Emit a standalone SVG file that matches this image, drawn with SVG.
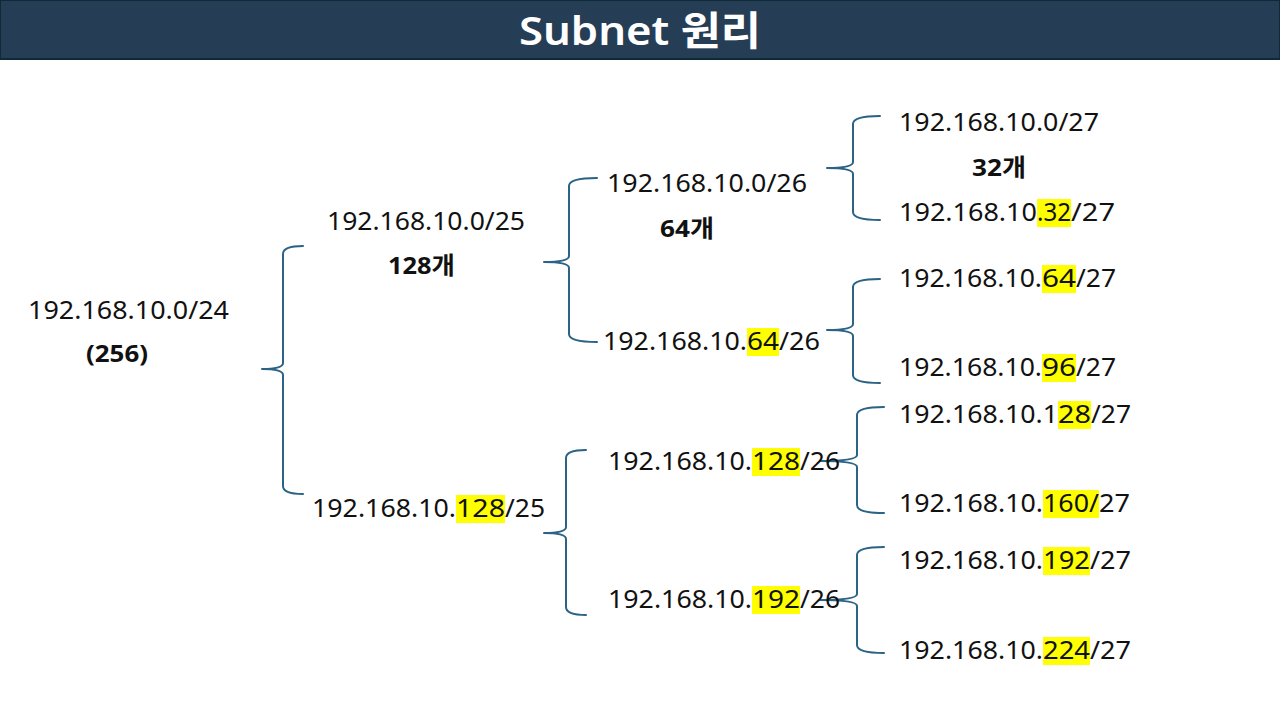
<svg xmlns="http://www.w3.org/2000/svg" width="1280" height="720" viewBox="0 0 1280 720">
<style>
.ip{font-family:"Noto Sans","Noto Sans CJK KR",sans-serif;font-size:25px;fill:#111;}
.cnt{font-family:"Noto Sans","Noto Sans CJK KR",sans-serif;font-size:24px;font-weight:700;fill:#111;}
.hl{fill:#FFFF00;}
.br{fill:none;stroke:#2A6385;stroke-width:2;stroke-linecap:round;stroke-linejoin:round;}
</style>
<rect x="0" y="0" width="1280" height="720" fill="#FFFFFF"/>
<g id="title">
<rect x="0.5" y="0.5" width="1279" height="59" fill="#263D56" stroke="#0E2A36" stroke-width="1"/>
<rect x="0" y="58" width="1280" height="2" fill="#0E2A36"/>
<text x="640" y="45" text-anchor="middle" font-family="Noto Sans, Noto Sans CJK KR, sans-serif" font-size="40" font-weight="600" fill="#FFFFFF" textLength="242" lengthAdjust="spacingAndGlyphs">Subnet 원리</text>
</g>
<g id="connectors">
<path class="br" d="M303 246 Q283 246 283 254 L283 363 Q283 369 262 369 Q283 369 283 375 L283 486 Q283 494 303 494"/>
<path class="br" d="M597 178 Q569 178 569 186 L569 256 Q569 262 544 262 Q569 262 569 268 L569 334 Q569 342 597 342"/>
<path class="br" d="M880 116 Q853 116 853 124 L853 162 Q853 168 827 168 Q853 168 853 174 L853 212 Q853 220 880 220"/>
<path class="br" d="M880 279 Q853 279 853 287 L853 324 Q853 330 827 330 Q853 330 853 336 L853 375 Q853 383 880 383"/>
<path class="br" d="M586 450 Q566 450 566 458 L566 527 Q566 533 544 533 Q566 533 566 539 L566 607 Q566 615 586 615"/>
<path class="br" d="M884 407 Q857 407 857 415 L857 455 Q857 461 820 461 Q857 461 857 467 L857 505 Q857 513 884 513"/>
<path class="br" d="M884 547 Q857 547 857 555 L857 594 Q857 600 820 600 Q857 600 857 606 L857 645 Q857 653 884 653"/>
</g>
<g id="n24">
<text class="ip" x="28" y="319" textLength="201" lengthAdjust="spacingAndGlyphs">192.168.10.0/24</text>
<text class="cnt" x="86" y="362" textLength="62" lengthAdjust="spacingAndGlyphs">(256)</text>
</g>
<g id="n25a">
<text class="ip" x="327" y="230" textLength="198" lengthAdjust="spacingAndGlyphs">192.168.10.0/25</text>
<text class="cnt" x="388" y="274" textLength="67" lengthAdjust="spacingAndGlyphs">128개</text>
</g>
<g id="n25b">
<rect class="hl" x="456" y="495" width="49" height="28"/>
<text class="ip" y="517"><tspan x="312" textLength="144" lengthAdjust="spacingAndGlyphs">192.168.10.</tspan><tspan x="456" textLength="49" lengthAdjust="spacingAndGlyphs">128</tspan><tspan x="505" textLength="40" lengthAdjust="spacingAndGlyphs">/25</tspan></text>
</g>
<g id="n26a">
<text class="ip" x="607" y="192" textLength="200" lengthAdjust="spacingAndGlyphs">192.168.10.0/26</text>
<text class="cnt" x="660" y="237" textLength="54" lengthAdjust="spacingAndGlyphs">64개</text>
</g>
<g id="n26b">
<rect class="hl" x="747" y="328" width="32" height="28"/>
<text class="ip" y="350"><tspan x="603" textLength="144" lengthAdjust="spacingAndGlyphs">192.168.10.</tspan><tspan x="747" textLength="32" lengthAdjust="spacingAndGlyphs">64</tspan><tspan x="779" textLength="41" lengthAdjust="spacingAndGlyphs">/26</tspan></text>
</g>
<g id="n26c">
<rect class="hl" x="752" y="448" width="48" height="28"/>
<text class="ip" y="470"><tspan x="608" textLength="144" lengthAdjust="spacingAndGlyphs">192.168.10.</tspan><tspan x="752" textLength="48" lengthAdjust="spacingAndGlyphs">128</tspan><tspan x="800" textLength="40" lengthAdjust="spacingAndGlyphs">/26</tspan></text>
</g>
<g id="n26d">
<rect class="hl" x="752" y="586" width="48" height="28"/>
<text class="ip" y="608"><tspan x="608" textLength="144" lengthAdjust="spacingAndGlyphs">192.168.10.</tspan><tspan x="752" textLength="48" lengthAdjust="spacingAndGlyphs">192</tspan><tspan x="800" textLength="40" lengthAdjust="spacingAndGlyphs">/26</tspan></text>
</g>
<g id="n27a">
<text class="ip" x="899" y="131" textLength="200" lengthAdjust="spacingAndGlyphs">192.168.10.0/27</text>
<text class="cnt" x="972" y="176" textLength="54" lengthAdjust="spacingAndGlyphs">32개</text>
</g>
<g id="n27b">
<rect class="hl" x="1037" y="199" width="34" height="28"/>
<text class="ip" y="221"><tspan x="899" textLength="138" lengthAdjust="spacingAndGlyphs">192.168.10</tspan><tspan x="1037" textLength="34" lengthAdjust="spacingAndGlyphs">.32</tspan><tspan x="1071" textLength="44" lengthAdjust="spacingAndGlyphs">/27</tspan></text>
</g>
<g id="n27c">
<rect class="hl" x="1042" y="265" width="34" height="28"/>
<text class="ip" y="287"><tspan x="899" textLength="143" lengthAdjust="spacingAndGlyphs">192.168.10.</tspan><tspan x="1042" textLength="34" lengthAdjust="spacingAndGlyphs">64</tspan><tspan x="1076" textLength="40" lengthAdjust="spacingAndGlyphs">/27</tspan></text>
</g>
<g id="n27d">
<rect class="hl" x="1042" y="354" width="34" height="28"/>
<text class="ip" y="376"><tspan x="899" textLength="143" lengthAdjust="spacingAndGlyphs">192.168.10.</tspan><tspan x="1042" textLength="34" lengthAdjust="spacingAndGlyphs">96</tspan><tspan x="1076" textLength="40" lengthAdjust="spacingAndGlyphs">/27</tspan></text>
</g>
<g id="n27e">
<rect class="hl" x="1058" y="401" width="33" height="28"/>
<text class="ip" y="423"><tspan x="899" textLength="159" lengthAdjust="spacingAndGlyphs">192.168.10.1</tspan><tspan x="1058" textLength="33" lengthAdjust="spacingAndGlyphs">28</tspan><tspan x="1091" textLength="40" lengthAdjust="spacingAndGlyphs">/27</tspan></text>
</g>
<g id="n27f">
<rect class="hl" x="1043" y="490" width="56" height="28"/>
<text class="ip" y="512"><tspan x="899" textLength="144" lengthAdjust="spacingAndGlyphs">192.168.10.</tspan><tspan x="1043" textLength="56" lengthAdjust="spacingAndGlyphs">160/</tspan><tspan x="1099" textLength="31" lengthAdjust="spacingAndGlyphs">27</tspan></text>
</g>
<g id="n27g">
<rect class="hl" x="1043" y="547" width="47" height="28"/>
<text class="ip" y="569"><tspan x="899" textLength="144" lengthAdjust="spacingAndGlyphs">192.168.10.</tspan><tspan x="1043" textLength="47" lengthAdjust="spacingAndGlyphs">192</tspan><tspan x="1090" textLength="41" lengthAdjust="spacingAndGlyphs">/27</tspan></text>
</g>
<g id="n27h">
<rect class="hl" x="1043" y="637" width="47" height="28"/>
<text class="ip" y="659"><tspan x="899" textLength="144" lengthAdjust="spacingAndGlyphs">192.168.10.</tspan><tspan x="1043" textLength="47" lengthAdjust="spacingAndGlyphs">224</tspan><tspan x="1090" textLength="41" lengthAdjust="spacingAndGlyphs">/27</tspan></text>
</g>
</svg>
